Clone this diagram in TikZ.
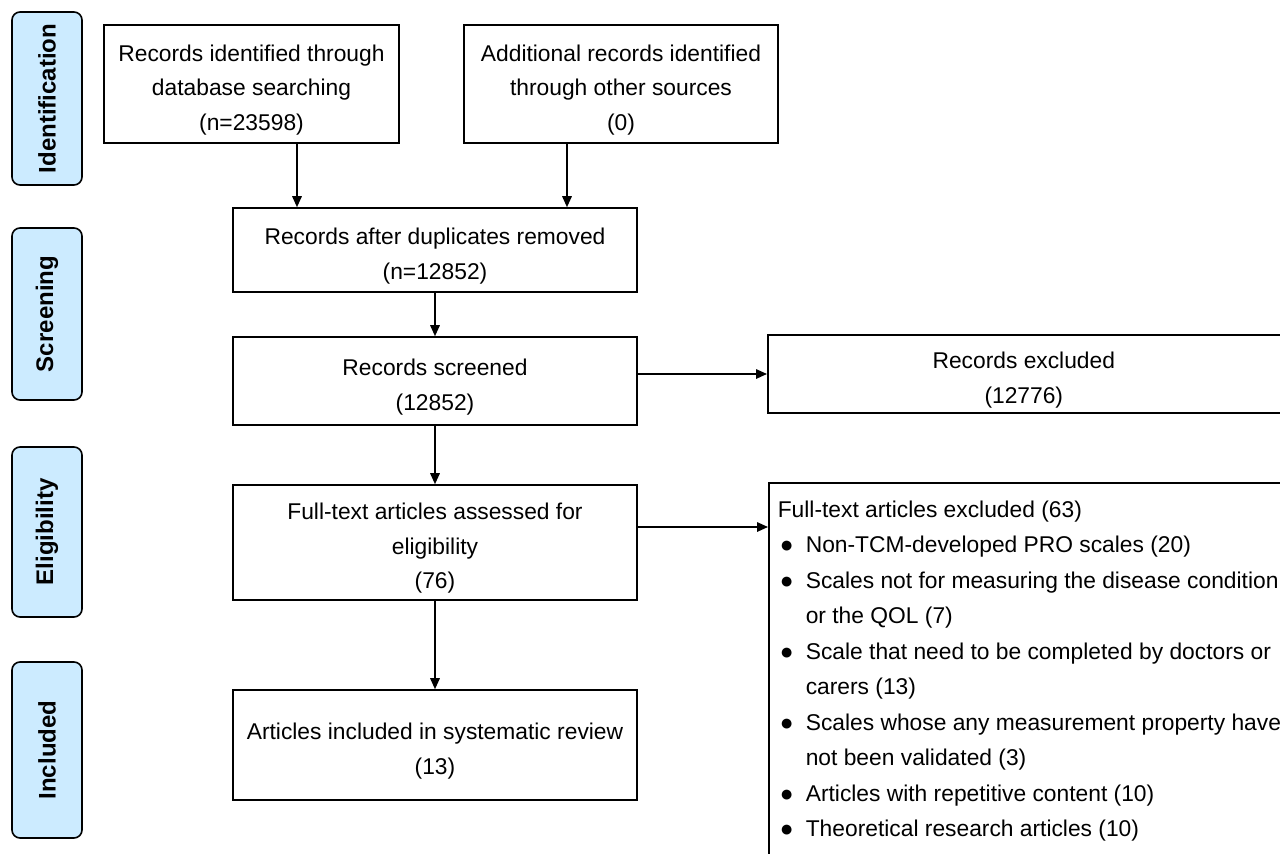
\documentclass[tikz,border=0pt]{standalone}
\usepackage{fontspec}
\setmainfont{Liberation Sans}
\definecolor{StageBlue}{RGB}{204,235,255}
\usetikzlibrary{arrows.meta, positioning}
\newcommand{\bul}{\makebox[28pt][l]{\hspace{2pt}●}}
\newcommand{\cont}{\hspace*{28pt}}
\newcommand{\topgap}{\rule{0pt}{28.5pt}}

\begin{document}
\begin{tikzpicture}[x=1pt, y=-1pt, line width=1.6pt,
  every node/.style={font=\fontsize{22.8}{34.5}\selectfont, align=center},
  box/.style={draw, inner sep=0pt},
  stage/.style={draw, fill=StageBlue, rounded corners=8pt, rotate=90, minimum height=70pt, font=\fontsize{24}{26}\selectfont\bfseries},
  arr/.style={-{Triangle[length=11pt, width=9.5pt]}}]
\useasboundingbox (0,0) rectangle (1280,854);
\clip (0,0) rectangle (1280,854);

% phases
\node[stage, minimum width=173pt] (ident) at (47,98.5) {Identification};
\node[stage, minimum width=172pt] (screen) at (47,314) {Screening};
\node[stage, minimum width=170pt] (elig) at (47,532) {Eligibility};
\node[stage, minimum width=176pt] (incl) at (47,750) {Included};

% flow
\node[box, minimum width=295pt, minimum height=118pt] (db) at (251.5,84) {\topgap Records identified through\\database searching\\(n=23598)};
\node[box, minimum width=314pt, minimum height=118pt] (other) at (621,84) {\topgap Additional records identified\\through other sources\\(0)};
\node[box, minimum width=404pt, minimum height=84pt] (dedup) at (435,250) {\topgap Records after duplicates removed\\(n=12852)};
\node[box, minimum width=404pt, minimum height=88pt] (screened) at (435,381) {\topgap Records screened\\(12852)};
\node[box, minimum width=533pt, minimum height=78pt, anchor=west] (excl) at (767,374) {\topgap\hspace*{-21pt}Records excluded\\\hspace*{-21pt}(12776)};
\node[box, minimum width=404pt, minimum height=115pt] (full) at (435,542.5) {\topgap Full-text articles assessed for\\eligibility\\(76)};
\node[box, minimum width=404pt, minimum height=110pt] (incl-rev) at (435,745) {\topgap Articles included in systematic review\\(13)};
\node[draw, anchor=north west, align=left, inner xsep=9pt, inner ysep=18pt] (fullex) at (768,482)
  {\parbox[t][380pt][t]{540pt}{\fontsize{22.8}{35.5}\selectfont
   Full-text articles excluded (63)\\
   \bul Non-TCM-developed PRO scales (20)\\
   \bul Scales not for measuring the disease condition\\
   \cont or the QOL (7)\\
   \bul Scale that need to be completed by doctors or\\
   \cont carers (13)\\
   \bul Scales whose any measurement property have\\
   \cont not been validated (3)\\
   \bul Articles with repetitive content (10)\\
   \bul Theoretical research articles (10)}};

\draw[arr] ([xshift=45.5pt]db.south) -- ([xshift=45.5pt]db.south |- dedup.north);
\draw[arr] ([xshift=-54pt]other.south) -- ([xshift=-54pt]other.south |- dedup.north);
\draw[arr] (dedup) -- (screened);
\draw[arr] (screened.east |- excl.west) -- (excl.west);
\draw[arr] (screened) -- (full);
\draw[arr] ([yshift=15.5pt]full.east) -- ([yshift=15.5pt]full.east -| fullex.west);
\draw[arr] (full) -- (incl-rev);
\end{tikzpicture}
\end{document}
